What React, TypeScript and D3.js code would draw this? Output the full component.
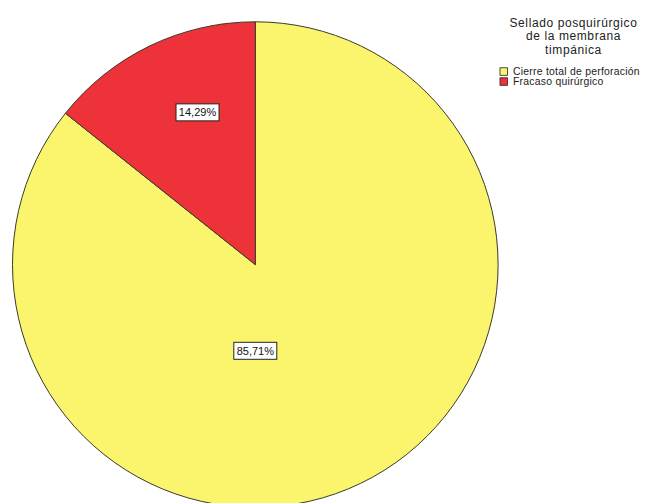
import React from "react";
import * as d3 from "d3";

const categories = ["Cierre total de perforación", "Fracaso quirúrgico"];
const values = [85.71, 14.29];
const valueLabels = ["85,71%", "14,29%"];
const colors = ["#FAF56C", "#EE3239"];
const legendTitle = ["Sellado posquirúrgico", "de la membrana", "timpánica"];

const W = 648;
const H = 503;
const cx = 255.3;
const cy = 264.6;
const R = 242.8;
const FONT = "'Liberation Sans', Arial, sans-serif";

// label anchor offsets (fraction of radius), matching the reference placement
const labelOffsets: [number, number][] = [
  [0, 0.355],
  [-0.238, -0.627],
];

export default function App() {
  const pie = d3.pie<number>().sort(null).value((d) => d);
  const arcs = pie(values);
  const arc = d3.arc<d3.PieArcDatum<number>>().innerRadius(0).outerRadius(R);

  return (
    <div style={{ position: "absolute", left: 0, top: 0 }}>
      <svg width={W} height={H} style={{ display: "block", background: "#fff" }}>
        <g transform={`translate(${cx},${cy})`}>
          {arcs.map((a, i) => (
            <path key={i} d={arc(a) || ""} fill={colors[i]} stroke="#3a3a2a" strokeWidth={1} />
          ))}
          {arcs.map((a, i) => {
            const x = labelOffsets[i][0] * R;
            const y = labelOffsets[i][1] * R;
            const w = 43;
            const h = 17;
            return (
              <g key={"l" + i} transform={`translate(${x},${y})`}>
                <rect x={-w / 2} y={-h / 2} width={w} height={h} fill="#fff" stroke="#222" strokeWidth={1} />
                <text x={0} y={4} textAnchor="middle" fontFamily={FONT} fontSize={11} fill="#111">
                  {valueLabels[i]}
                </text>
              </g>
            );
          })}
        </g>
        <g fontFamily={FONT} fill="#222">
          {legendTitle.map((t, i) => (
            <text
              key={t}
              x={573.5}
              y={27 + i * 13.3}
              textAnchor="middle"
              fontSize={12}
              letterSpacing={0.6}
            >
              {t}
            </text>
          ))}
          {categories.map((c, i) => (
            <g key={c} transform={`translate(500,${67.8 + i * 10})`}>
              <rect x={0} y={0} width={7.5} height={7.5} fill={colors[i]} stroke="#222" strokeWidth={0.8} />
              <text x={13} y={7.5} fontSize={10.4} letterSpacing={0.25}>
                {c}
              </text>
            </g>
          ))}
        </g>
      </svg>
    </div>
  );
}
